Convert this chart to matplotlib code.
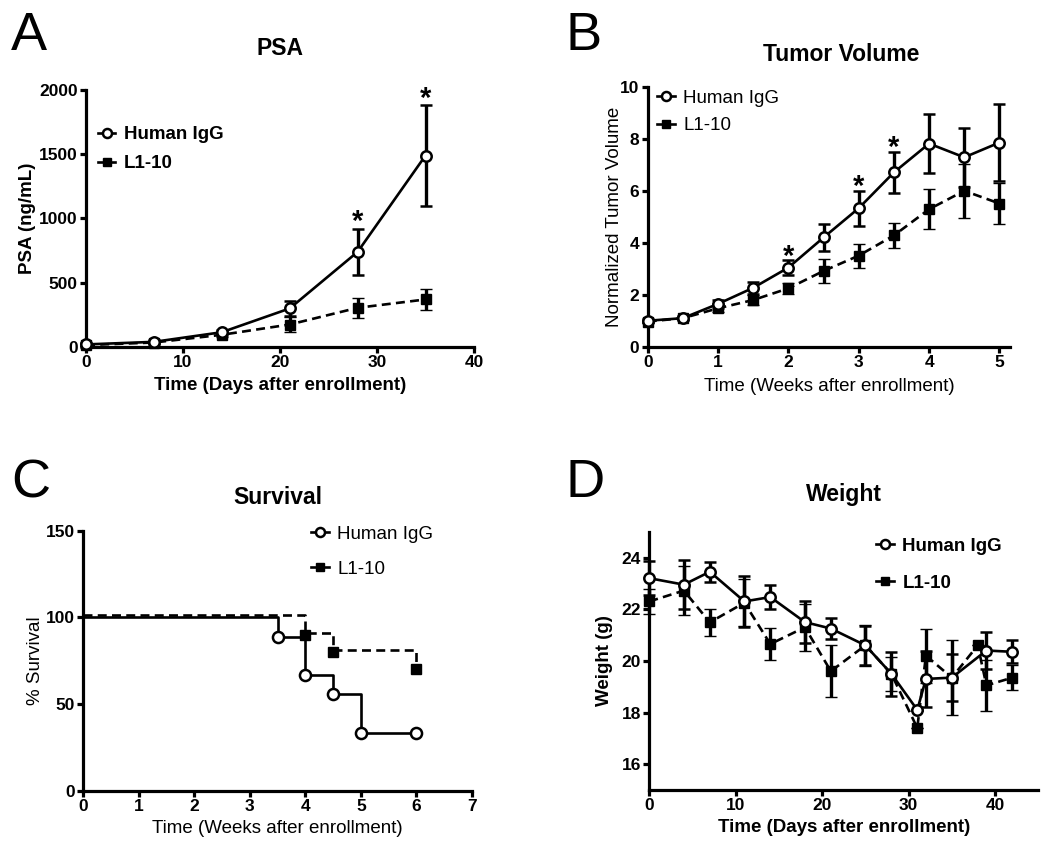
import matplotlib
matplotlib.use("Agg")
import matplotlib.pyplot as plt
import matplotlib.transforms as mtransforms
from matplotlib.lines import Line2D

plt.rcParams['font.family'] = ['Liberation Sans', 'DejaVu Sans']

# ---------------- DATA ----------------
# Panel A: PSA
psa_days = [0, 7, 14, 21, 28, 35]
psa_igg = [20, 40, 115, 300, 740, 1490]
psa_igg_err = [15, 15, 20, 55, 180, 390]
psa_l110 = [15, 35, 95, 175, 305, 370]
psa_l110_err = [10, 10, 15, 55, 80, 85]
psa_sig = [28, 35]

# Panel B: Tumor volume
tv_weeks = [0, 0.5, 1, 1.5, 2, 2.5, 3, 3.5, 4, 4.5, 5]
tv_igg = [1.0, 1.1, 1.65, 2.27, 3.05, 4.21, 5.34, 6.72, 7.83, 7.3, 7.87]
tv_igg_err = [0.05, 0.08, 0.15, 0.22, 0.28, 0.52, 0.67, 0.78, 1.13, 1.13, 1.48]
tv_l110 = [0.97, 1.1, 1.48, 1.8, 2.25, 2.92, 3.51, 4.29, 5.3, 6.01, 5.52]
tv_l110_err = [0.05, 0.08, 0.15, 0.2, 0.22, 0.47, 0.46, 0.48, 0.77, 1.03, 0.78]
tv_sig = [2, 3, 3.5]

# Panel C: Survival
surv_igg_t = [0, 3.5, 4, 4.5, 5, 6]
surv_igg = [100, 88.9, 66.7, 55.6, 33.3, 33.3]
surv_l110_t = [0, 4, 4.5, 6]
surv_l110 = [100, 90, 80, 70]

# Panel D: Weight
wt_igg_days = [0, 4, 7, 11, 14, 18, 21, 25, 28, 31, 32, 35, 39, 42]
wt_igg = [23.2, 22.95, 23.45, 22.3, 22.47, 21.5, 21.25, 20.6, 19.5, 18.1, 19.3, 19.35, 20.4, 20.35]
wt_igg_err = [0.65, 0.95, 0.38, 1.0, 0.48, 0.8, 0.39, 0.75, 0.85, 0.0, 1.07, 0.9, 0.7, 0.45]
wt_l110_days = [0, 4, 7, 11, 14, 18, 21, 25, 28, 31, 32, 35, 38, 39, 42]
wt_l110 = [22.3, 22.72, 21.49, 22.25, 20.65, 21.3, 19.6, 20.6, 19.5, 17.4, 20.2, 19.35, 20.6, 19.05, 19.35]
wt_l110_err = [0.5, 0.95, 0.53, 0.9, 0.62, 0.9, 1.0, 0.8, 0.65, 0.0, 1.05, 1.45, 0.0, 1.0, 0.47]

labels = ['Human IgG', 'L1-10']

# ---------------- FIGURE ----------------
W, H = 1050, 852
fig = plt.figure(figsize=(W / 100, H / 100), dpi=100)


def add_ax(left, top, right, bottom):
    return fig.add_axes([left / W, 1 - bottom / H, (right - left) / W, (bottom - top) / H])


LW_AX = 2.3
LW = 1.9
MS = 7.5
CAP = 4.5
ELW = 2.4
DASH = (3.4, 2.0)
TICK_FS = 12.5
LAB_FS = 13.5
TITLE_FS = 16.5
LEG_FS = 13.5


def style_axis(ax, tick_bold=True, fs=TICK_FS):
    for s in ['top', 'right']:
        ax.spines[s].set_visible(False)
    for s in ['left', 'bottom']:
        ax.spines[s].set_linewidth(LW_AX)
    ax.tick_params(width=LW_AX, length=4, direction='out', labelsize=fs, pad=2)
    for lab in ax.get_xticklabels() + ax.get_yticklabels():
        lab.set_fontweight('bold' if tick_bold else 'normal')


def draw_err(ax, x, y, e, open_marker):
    if open_marker:
        ax.errorbar(x, y, yerr=e, fmt='o-', color='black', mfc='white', mec='black',
                    ms=MS, mew=1.8, lw=LW, capsize=CAP, elinewidth=ELW, capthick=ELW,
                    zorder=4, clip_on=False)
    else:
        ax.errorbar(x, y, yerr=e, fmt='s', color='black', ms=MS - 0.5, mew=1.0,
                    capsize=CAP, elinewidth=ELW, capthick=ELW, zorder=3, clip_on=False)
        ax.plot(x, y, color='black', lw=LW, ls=(0, DASH), zorder=3, clip_on=False)


def legend_handles():
    h1 = Line2D([], [], color='black', marker='o', mfc='white', ms=MS - 1, mew=1.8, lw=LW)
    h2 = Line2D([], [], color='black', marker='s', ms=MS - 1.5, lw=LW)
    return [h1, h2]


def add_legend(ax, x, y, bold, spacing):
    leg = ax.legend(legend_handles(), labels, loc='upper left', bbox_to_anchor=(x, y),
                    frameon=False, handlelength=0.95, handletextpad=0.45, borderaxespad=0,
                    borderpad=0, labelspacing=spacing,
                    prop={'size': LEG_FS, 'weight': 'bold' if bold else 'normal'})
    return leg


def stars(ax, xs, x, y, e, off):
    for xi, yi, ei in zip(x, y, e):
        if xi in xs:
            ax.annotate('*', xy=(xi, yi + ei), xytext=(0, off), textcoords='offset points',
                        ha='center', va='baseline', fontsize=21, fontweight='bold')


# ---------- Panel A ----------
axA = add_ax(86, 90, 474, 347)
draw_err(axA, psa_days, psa_l110, psa_l110_err, False)
draw_err(axA, psa_days, psa_igg, psa_igg_err, True)
axA.set_xlim(0, 40)
axA.set_ylim(0, 2000)
axA.set_xticks([0, 10, 20, 30, 40])
axA.set_yticks([0, 500, 1000, 1500, 2000])
style_axis(axA, True)
axA.set_xlabel('Time (Days after enrollment)', fontsize=LAB_FS, fontweight='bold', labelpad=5)
axA.set_ylabel('PSA (ng/mL)', fontsize=LAB_FS, fontweight='bold', labelpad=2)
axA.set_title('PSA', fontsize=TITLE_FS, fontweight='bold', pad=25)
add_legend(axA, 0.03, 0.86, True, 0.65)
stars(axA, psa_sig, psa_days, psa_igg, psa_igg_err, -1)

# ---------- Panel B ----------
axB = add_ax(647.7, 87.3, 1010, 346.7)
draw_err(axB, tv_weeks, tv_l110, tv_l110_err, False)
draw_err(axB, tv_weeks, tv_igg, tv_igg_err, True)
axB.set_xlim(0, 5.15)
axB.set_ylim(0, 10)
axB.set_xticks([0, 1, 2, 3, 4, 5])
axB.set_yticks([0, 2, 4, 6, 8, 10])
style_axis(axB, True)
axB.set_xlabel('Time (Weeks after enrollment)', fontsize=LAB_FS, labelpad=6)
axB.set_ylabel('Normalized Tumor Volume', fontsize=LAB_FS, labelpad=-2)
axB.set_title('Tumor Volume', fontsize=TITLE_FS, fontweight='bold', pad=19, x=0.535)
add_legend(axB, 0.026, 0.99, False, 0.55)
stars(axB, tv_sig, tv_weeks, tv_igg, tv_igg_err, -3)

# ---------- Panel C ----------
axC = add_ax(83.3, 530.7, 471.8, 790.7)
axC.step(surv_igg_t, surv_igg, where='post', color='black', lw=LW, zorder=3, clip_on=False)
off = mtransforms.offset_copy(axC.transData, fig=fig, x=0, y=2.0, units='dots')
axC.step(surv_l110_t, surv_l110, where='post', color='black', lw=LW, ls=(0, DASH),
         zorder=3, transform=off, clip_on=False)
axC.plot(surv_igg_t[1:], surv_igg[1:], 'o', color='black', mfc='white', ms=MS + 0.5,
         mew=1.8, zorder=4, clip_on=False)
axC.plot(surv_l110_t[1:], surv_l110[1:], 's', color='black', ms=MS, zorder=4, clip_on=False)
axC.set_xlim(0, 7)
axC.set_ylim(0, 150)
axC.set_xticks(range(0, 8))
axC.set_yticks([0, 50, 100, 150])
style_axis(axC, True)
axC.set_xlabel('Time (Weeks after enrollment)', fontsize=LAB_FS, labelpad=4)
axC.set_ylabel('% Survival', fontsize=LAB_FS, labelpad=1)
axC.set_title('Survival', fontsize=TITLE_FS, fontweight='bold', pad=19)
add_legend(axC, 0.586, 1.02, False, 0.95)

# ---------- Panel D ----------
axD = add_ax(649.3, 531.7, 1038.3, 790)
draw_err(axD, wt_l110_days, wt_l110, wt_l110_err, False)
draw_err(axD, wt_igg_days, wt_igg, wt_igg_err, True)
axD.set_xlim(0, 45)
axD.set_ylim(15, 25)
axD.set_xticks([0, 10, 20, 30, 40])
axD.set_yticks([16, 18, 20, 22, 24])
style_axis(axD, True)
axD.set_xlabel('Time (Days after enrollment)', fontsize=LAB_FS, fontweight='bold', labelpad=4)
axD.set_ylabel('Weight (g)', fontsize=LAB_FS, fontweight='bold', labelpad=6)
axD.set_title('Weight', fontsize=TITLE_FS, fontweight='bold', pad=22)
add_legend(axD, 0.583, 0.977, True, 1.05)

# Panel letters
for letter, x, y in [('A', 11, 50), ('B', 566, 50), ('C', 11, 498), ('D', 566, 497)]:
    fig.text(x / W, 1 - y / H, letter, fontsize=39, ha='left', va='baseline')

fig.savefig('out.png', dpi=100)
